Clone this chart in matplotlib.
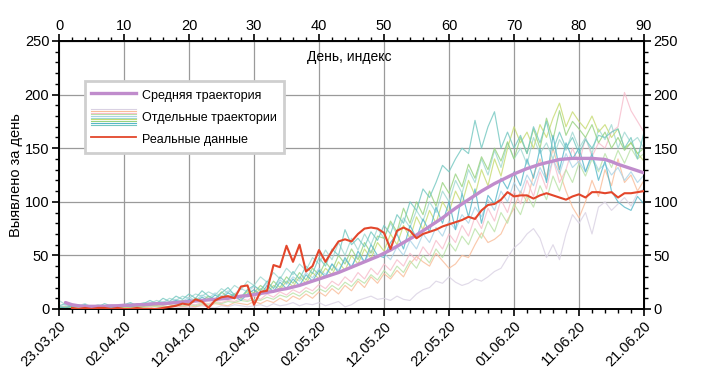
import numpy as np
import matplotlib
matplotlib.use("Agg")
import matplotlib.pyplot as plt
from matplotlib.lines import Line2D
from matplotlib.legend_handler import HandlerBase
from matplotlib.ticker import MultipleLocator, FixedLocator, FixedFormatter

plt.rcParams['font.family'] = ['Liberation Sans', 'DejaVu Sans']

# ---------------- data ----------------
days = list(range(0, 91))
date_ticks = [0, 10, 20, 30, 40, 50, 60, 70, 80, 90]
date_labels = ['23.03.20', '02.04.20', '12.04.20', '22.04.20', '02.05.20',
               '12.05.20', '22.05.20', '01.06.20', '11.06.20', '21.06.20']

real_days = list(range(2, 91))
real_values = [1, 0, 1, 0, 1, 1, 0, 1, 0, 0, 1, 0, 0, 0, 1, 2, 3, 5, 4, 9,
               7, 1, 8, 11, 12, 10, 21, 22, 4, 16, 17, 41, 39, 59, 44, 60, 35, 40, 55, 44,
               54, 63, 65, 63, 70, 75, 76, 75, 71, 56, 73, 76, 73, 66, 70, 72, 74, 77, 79, 81,
               83, 86, 84, 92, 97, 98, 102, 109, 105, 106, 106, 103, 106, 108, 106, 104, 102, 105, 107, 104,
               109, 109, 108, 109, 104, 108, 108, 109, 110]

mean_days = list(range(1, 91))
mean_values = [6, 4, 3, 2.5, 2.5, 2.5, 2.5, 3, 3, 3.5, 3.5, 4, 4, 4.5, 5, 5, 5.5, 6, 6.5, 7,
               7.5, 8, 8.5, 9, 9.5, 10, 11, 12, 12.5, 13.5, 14.5, 15.5, 16.5, 18, 19, 20.5, 22, 24, 26, 28,
               30, 32, 34, 36.5, 39, 41.5, 44, 46.5, 49, 52, 55, 58.5, 62, 65.5, 69, 73, 77, 81, 85, 89.5,
               94, 98, 102, 106, 110, 113.5, 117, 120, 123, 126, 128.5, 131, 133, 135, 136.5, 138, 139.5, 140, 140.5, 140.5,
               140.5, 140.5, 140, 139.5, 137.5, 135, 133, 131, 129, 127]

traj_teal = [3, 5, 2, 4, 1, 3, 2, 5, 3, 2, 4, 6, 3, 5, 8, 5, 10, 7, 12, 9,
             14, 10, 17, 12, 9, 15, 20, 13, 11, 18, 22, 17, 26, 19, 30, 24, 35, 28, 40, 33,
             48, 40, 56, 50, 74, 60, 66, 58, 72, 64, 78, 70, 88, 80, 100, 92, 112, 104, 118, 134,
             128, 140, 150, 145, 176, 150, 170, 184, 150, 165, 150, 162, 145, 170, 155, 175, 148, 165, 150, 160,
             145, 158, 150, 162, 160, 165, 168, 150, 160, 140, 165]
traj_cyan = [2, 1, 3, 2, 4, 1, 2, 3, 1, 2, 3, 2, 4, 3, 5, 4, 6, 5, 8, 6,
             9, 7, 11, 8, 13, 10, 15, 12, 8, 14, 18, 13, 22, 16, 25, 19, 28, 22, 32, 26,
             36, 30, 42, 34, 48, 38, 54, 44, 60, 50, 48, 62, 70, 56, 78, 66, 84, 72, 95, 80,
             100, 74, 108, 86, 112, 80, 106, 98, 122, 112, 128, 115, 140, 122, 150, 118, 162, 130, 155, 140,
             150, 128, 145, 120, 138, 110, 100, 95, 92, 105, 98]
traj_green = [1, 2, 1, 3, 2, 1, 2, 1, 3, 2, 2, 3, 2, 4, 3, 5, 4, 6, 5, 8,
              6, 10, 8, 12, 9, 16, 11, 14, 10, 18, 15, 22, 17, 26, 20, 30, 24, 34, 27, 38,
              32, 44, 36, 50, 42, 56, 46, 62, 52, 68, 66, 82, 72, 94, 80, 100, 88, 110, 96, 118,
              108, 126, 114, 135, 122, 142, 130, 150, 138, 156, 140, 160, 145, 168, 150, 178, 158, 185, 162, 175,
              168, 160, 172, 155, 165, 150, 160, 148, 155, 145, 150]
traj_yellow = [2, 1, 2, 1, 1, 2, 1, 2, 1, 1, 2, 1, 3, 2, 4, 3, 5, 4, 3, 6,
               5, 8, 6, 10, 7, 12, 9, 14, 11, 16, 13, 19, 15, 22, 18, 26, 21, 30, 24, 34,
               28, 38, 32, 44, 36, 50, 42, 56, 47, 62, 54, 70, 60, 78, 66, 86, 74, 92, 80, 100,
               90, 110, 98, 120, 106, 130, 115, 140, 124, 150, 170, 155, 165, 150, 172, 160, 178, 192, 170, 184,
               175, 168, 180, 165, 172, 160, 168, 150, 155, 145, 138]
traj_lteal = [8, 4, 2, 3, 5, 2, 4, 3, 2, 4, 3, 5, 4, 6, 5, 8, 6, 10, 8, 12,
              10, 14, 12, 16, 13, 19, 15, 22, 18, 26, 22, 30, 25, 34, 28, 38, 32, 42, 36, 48,
              42, 55, 46, 62, 50, 66, 55, 70, 60, 75, 66, 80, 70, 85, 76, 92, 82, 100, 90, 110,
              100, 120, 108, 130, 118, 140, 125, 148, 132, 155, 140, 150, 135, 160, 145, 155, 140, 158, 148, 165,
              150, 160, 145, 168, 158, 172, 150, 165, 155, 160, 150]
traj_pink = [3, 2, 4, 2, 3, 1, 2, 3, 2, 1, 2, 1, 3, 2, 2, 4, 3, 2, 4, 3,
             5, 4, 6, 5, 7, 6, 8, 7, 10, 8, 12, 9, 14, 11, 16, 13, 18, 15, 20, 17,
             23, 19, 26, 22, 30, 25, 34, 28, 38, 32, 42, 36, 46, 40, 52, 45, 58, 50, 64, 56,
             70, 62, 78, 68, 86, 75, 94, 82, 102, 90, 110, 98, 120, 105, 128, 112, 140, 118, 130, 150,
             135, 160, 142, 155, 150, 165, 170, 202, 185, 175, 165]
traj_peach = [1, 2, 1, 1, 2, 1, 1, 2, 1, 1, 1, 2, 1, 2, 1, 3, 2, 1, 3, 2,
              3, 2, 4, 3, 5, 4, 3, 6, 5, 4, 7, 5, 8, 6, 10, 7, 12, 9, 14, 10,
              16, 12, 19, 14, 22, 17, 26, 20, 30, 24, 33, 28, 36, 30, 42, 49, 44, 40, 52, 45,
              38, 42, 50, 48, 60, 71, 62, 65, 70, 83, 94, 110, 100, 125, 140, 123, 150, 128, 110, 95,
              85, 100, 120, 105, 130, 115, 140, 118, 125, 110, 120]
traj_lavender = [0, 1, 0, 1, 0, 0, 1, 0, 1, 0, 1, 0, 1, 1, 0, 1, 2, 1, 1, 2,
                 1, 2, 3, 2, 1, 3, 2, 4, 3, 2, 3, 4, 2, 5, 3, 4, 6, 3, 5, 4,
                 6, 3, 5, 7, 2, 4, 8, 10, 12, 9, 10, 8, 12, 9, 8, 14, 18, 20, 26, 24,
                 30, 25, 22, 24, 28, 26, 30, 35, 38, 48, 57, 62, 70, 75, 66, 48, 60, 46, 70, 88,
                 80, 90, 70, 95, 100, 92, 98, 104, 96, 108, 112]
traj_lblue = [2, 3, 1, 2, 4, 2, 3, 1, 2, 3, 4, 3, 5, 4, 6, 5, 7, 6, 9, 7,
              11, 8, 13, 10, 15, 12, 17, 14, 19, 16, 21, 18, 24, 20, 27, 23, 30, 26, 34, 29,
              38, 32, 42, 36, 46, 40, 50, 44, 55, 48, 52, 46, 58, 50, 64, 56, 70, 62, 76, 68,
              82, 74, 88, 80, 95, 86, 102, 92, 110, 100, 118, 108, 125, 115, 132, 120, 140, 126, 145, 132,
              138, 128, 142, 130, 135, 125, 132, 120, 128, 118, 125]
traj_lgreen = [1, 1, 2, 1, 1, 2, 1, 1, 2, 1, 1, 2, 2, 1, 3, 2, 3, 2, 4, 3,
               4, 3, 5, 4, 6, 5, 7, 6, 8, 7, 9, 8, 11, 9, 13, 11, 15, 12, 17, 14,
               19, 16, 22, 18, 25, 21, 28, 24, 32, 27, 36, 30, 40, 34, 45, 38, 50, 43, 56, 48,
               62, 54, 68, 60, 75, 66, 82, 72, 90, 80, 98, 88, 106, 95, 115, 102, 124, 110, 130, 118,
               136, 124, 140, 128, 145, 132, 148, 136, 150, 140, 145]

traj_series = [traj_lavender, traj_peach, traj_pink, traj_lgreen, traj_lblue,
               traj_lteal, traj_yellow, traj_green, traj_cyan, traj_teal]
traj_colors = ['#d9d1e3', '#f9bc98', '#f7bccb', '#b9e2a6', '#a9d3e6',
               '#9fd8d1', '#c6db70', '#97d27e', '#55b7c9', '#72c7c0']

# ---------------- figure ----------------
fig = plt.figure(figsize=(7.03, 3.73), dpi=100)
ax = fig.add_axes([59 / 703, 1 - 309 / 373, 585 / 703, 268 / 373])

for vals, col in zip(traj_series, traj_colors):
    ax.plot(days, vals, color=col, lw=0.85, alpha=0.8, zorder=2)

ax.plot(mean_days, mean_values, color='#c08ccc', lw=2.4, zorder=4, solid_capstyle='round')
ax.plot(real_days, real_values, color='#e3462b', lw=1.5, zorder=5)

ax.set_xlim(0, 90)
ax.set_ylim(0, 250)

ax.xaxis.set_major_locator(FixedLocator(date_ticks))
ax.xaxis.set_major_formatter(FixedFormatter(date_labels))
ax.xaxis.set_minor_locator(MultipleLocator(2))
ax.yaxis.set_major_locator(MultipleLocator(50))
ax.yaxis.set_minor_locator(MultipleLocator(10))
for lab in ax.get_xticklabels():
    lab.set_rotation(45)
    lab.set_ha('right')
    lab.set_rotation_mode('anchor')

ax.grid(True, which='major', color='#9a9a9a', lw=0.9, zorder=0)
ax.set_axisbelow(True)

for s in ax.spines.values():
    s.set_linewidth(1.4)
    s.set_color('black')

ax.tick_params(which='major', direction='out', length=5, width=1.2, labelsize=10.5, pad=2)
ax.tick_params(which='minor', direction='out', length=3, width=1.0)

top = ax.secondary_xaxis('top')
top.xaxis.set_major_locator(FixedLocator(date_ticks))
top.xaxis.set_minor_locator(MultipleLocator(2))
top.tick_params(which='major', direction='out', length=5, width=1.2, labelsize=10.5, pad=1)
top.tick_params(which='minor', direction='out', length=3, width=1.0)
top.xaxis.get_offset_text().set_visible(False)

right = ax.secondary_yaxis('right')
right.yaxis.set_major_locator(MultipleLocator(50))
right.yaxis.set_minor_locator(MultipleLocator(10))
right.tick_params(which='major', direction='out', length=5, width=1.2, labelsize=10.5, pad=2)
right.tick_params(which='minor', direction='out', length=3, width=1.0)
right.yaxis.get_offset_text().set_visible(False)

ax.set_ylabel('Выявлено за день', fontsize=10.5, labelpad=1)
ax.text(0.497, 0.94, 'День, индекс', transform=ax.transAxes, ha='center', va='center', fontsize=10)


class MultiLineHandler(HandlerBase):
    def __init__(self, colors):
        super().__init__()
        self.colors = colors

    def create_artists(self, legend, orig_handle, xdescent, ydescent, width, height, fontsize, trans):
        arts = []
        n = len(self.colors)
        for i, c in enumerate(self.colors):
            y = -ydescent + height * (i / (n - 1))
            arts.append(Line2D([-xdescent, -xdescent + width], [y, y], color=c, lw=0.8, transform=trans))
        return arts


class TrajHandle:
    pass


h_mean = Line2D([], [], color='#c08ccc', lw=2.4)
h_real = Line2D([], [], color='#e3462b', lw=1.3)
h_traj = TrajHandle()
leg = ax.legend([h_mean, h_traj, h_real],
                ['Средняя траектория', 'Отдельные траектории', 'Реальные данные'],
                handler_map={TrajHandle: MultiLineHandler(traj_colors[::-1])},
                loc='upper left', bbox_to_anchor=(0.0444, 0.851), borderaxespad=0,
                fontsize=9,
                handlelength=3.6, handleheight=1.5, labelspacing=0.55, borderpad=0.5,
                handletextpad=0.5, frameon=True, fancybox=False, framealpha=1)
leg.get_frame().set_edgecolor('#cfcfcf')
leg.get_frame().set_linewidth(2)
leg.set_zorder(6)

fig.savefig('out.png', dpi=100)
